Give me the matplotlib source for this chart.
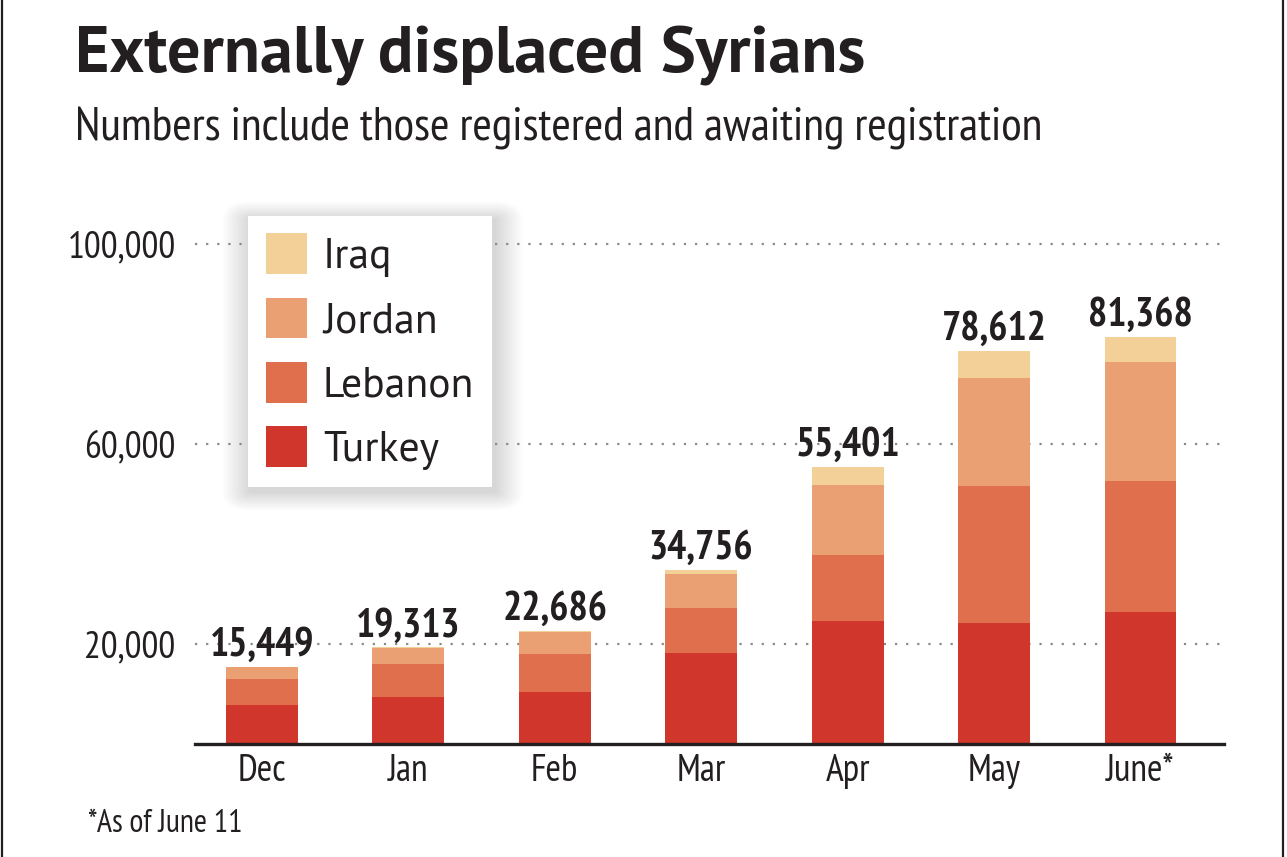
import matplotlib
matplotlib.use('Agg')
import matplotlib.pyplot as plt
from matplotlib import font_manager as fm
from matplotlib.patches import Patch, FancyBboxPatch
from matplotlib.lines import Line2D
import numpy as np

# data
months = ['Dec', 'Jan', 'Feb', 'Mar', 'Apr', 'May', 'June*']
turkey = [7800, 9400, 10400, 18200, 24600, 24200, 26400]
lebanon = [5200, 6600, 7600, 9000, 13200, 27400, 26200]
jordan = [2400, 3200, 4500, 6900, 14000, 21600, 23800]
iraq = [49, 113, 186, 656, 3601, 5412, 4968]
totals = [15449, 19313, 22686, 34756, 55401, 78612, 81368]
yticks = [20000, 60000, 100000]

col_turkey = '#d0362c'
col_lebanon = '#e0704d'
col_jordan = '#eaa072'
col_iraq = '#f4d099'
ink = '#231f20'

installed = {f.name for f in fm.fontManager.ttflist}
def pick(cands):
    for c in cands:
        if c in installed:
            return c
    return 'DejaVu Sans'

narrow = [pick(['PT Sans Narrow', 'Fira Sans Condensed', 'Roboto Condensed',
                'Barlow Condensed', 'Archivo Narrow']), 'DejaVu Sans']
plain = [pick(['PT Sans', 'Fira Sans', 'Open Sans']), 'DejaVu Sans']

fig = plt.figure(figsize=(12.87, 8.57), dpi=100)
ax = fig.add_axes([195/1287, 1-744/857, (1224-195)/1287, 525/857])
ax.patch.set_visible(False)

x = np.arange(len(months))
w = 0.49
b = np.zeros(len(months))
for vals, c, name in [(turkey, col_turkey, 'Turkey'), (lebanon, col_lebanon, 'Lebanon'),
                      (jordan, col_jordan, 'Jordan'), (iraq, col_iraq, 'Iraq')]:
    ax.bar(x, vals, w, bottom=b, color=c, label=name, zorder=3)
    b += np.array(vals)

for i, t in enumerate(totals):
    ax.annotate(f'{t:,}', (x[i], b[i]), xytext=(0, 8), textcoords='offset points',
                ha='center', va='baseline', fontsize=29, fontweight='bold',
                family=narrow, color=ink, zorder=4)

ax.set_xlim(-0.457, 6.57)
ax.set_ylim(0, 105000)
ax.set_xticks(x)
ax.set_xticklabels(months, family=narrow, fontsize=27, color=ink)
ax.set_yticks(yticks)
ax.set_yticklabels([f'{v:,}' for v in yticks], family=narrow, fontsize=27, color=ink)
ax.tick_params(length=0)
ax.tick_params(axis='y', pad=14)
ax.tick_params(axis='x', pad=7)
for s in ['top', 'right', 'left']:
    ax.spines[s].set_visible(False)
ax.spines['bottom'].set_linewidth(2.4)
ax.spines['bottom'].set_color(ink)
ax.spines['bottom'].set_zorder(5)
ax.yaxis.grid(True, linestyle=(0, (1, 4)), color='#8a8a8a', linewidth=1.6, zorder=0)
ax.set_axisbelow(True)

handles = [Patch(facecolor=col_iraq), Patch(facecolor=col_jordan),
           Patch(facecolor=col_lebanon), Patch(facecolor=col_turkey)]
leg = ax.legend(handles, ['Iraq', 'Jordan', 'Lebanon', 'Turkey'],
                loc='upper left', bbox_to_anchor=(248/1287, 1-216/857),
                bbox_transform=fig.transFigure, prop={'family': plain, 'size': 30},
                frameon=True, fancybox=False, edgecolor='none', framealpha=1,
                handlelength=1.0, handleheight=1.12, labelspacing=0.5,
                handletextpad=0.38, borderpad=0.42, borderaxespad=0)
leg.set_zorder(10)
for t in leg.get_texts():
    t.set_color(ink)

# soft shadow round the legend box
fig.canvas.draw()
bb = leg.get_window_extent().transformed(fig.transFigure.inverted())
for k in range(20):
    pad = 0.0011 * (k + 1)
    sh = FancyBboxPatch((bb.x0 + 0.002, bb.y0 - 0.005), bb.width, bb.height,
                        boxstyle=f'round,pad={pad}', transform=fig.transFigure,
                        facecolor='#000000', edgecolor='none', alpha=0.007, zorder=-1)
    fig.add_artist(sh)

fig.text(75/1287, 1-73/857, 'Externally displaced Syrians', family=plain,
         fontweight='bold', fontsize=47.6, color=ink, va='baseline')
fig.text(75/1287, 1-140/857, 'Numbers include those registered and awaiting registration',
         family=narrow, fontsize=34, color=ink, va='baseline')
fig.text(88/1287, 1-832/857, '*As of June 11', family=narrow, fontsize=23,
         color=ink, va='baseline')

fig.add_artist(Line2D([1.5/1287, 1.5/1287], [0, 1], color=ink, linewidth=1.6))
fig.add_artist(Line2D([1283/1287, 1283/1287], [0, 1], color=ink, linewidth=1.6))

fig.savefig('out.png', dpi=100, facecolor='white')
